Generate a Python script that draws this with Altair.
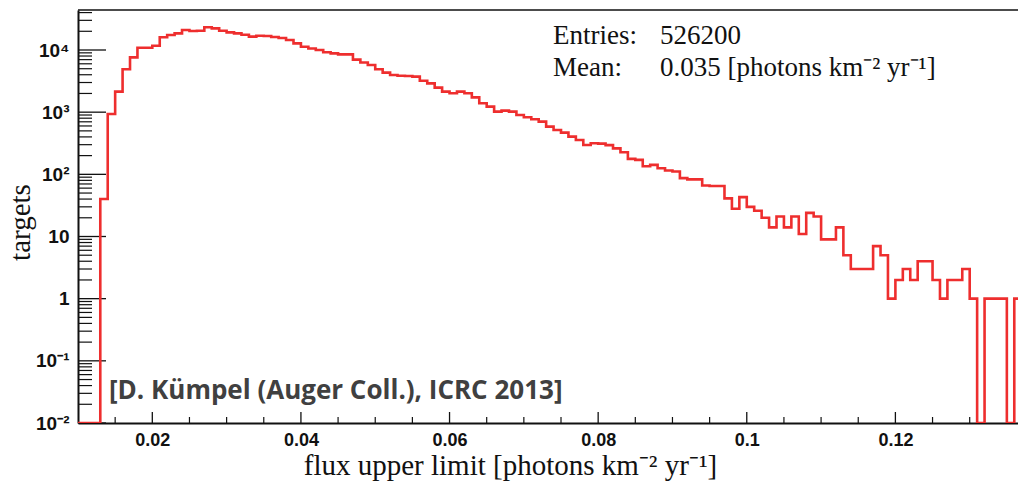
import altair as alt
import numpy as np
import pandas as pd

# ---- histogram: flux upper limit (bin width 0.001, first bin edge 0.010) ----
x_start = 0.010
bin_width = 0.001
counts = [
    0, 0, 0, 40, 936, 2140, 4900, 7620, 10900, 10900,
    11700, 16000, 17400, 18500, 21000, 20200, 20400, 23200, 22300, 20400,
    19200, 18500, 17600, 16400, 17000, 16800, 16200, 15600, 14500, 12800,
    11300, 10600, 10000, 9180, 8840, 8500, 8500, 7000, 6300, 5740,
    4900, 4320, 3960, 3860, 3820, 3730, 3210, 2910, 2480, 2140,
    2010, 2140, 2010, 1730, 1390, 1230, 1020, 1060, 1020, 901,
    828, 769, 705, 585, 518, 469, 404, 357, 297, 316,
    312, 295, 262, 226, 177, 171, 135, 142, 125, 115,
    111, 87, 83, 83, 66, 65, 65, 41, 28, 43,
    30, 26, 20, 14, 21, 14, 21, 11, 24, 21,
    9, 9, 14, 5, 3, 3, 3, 7, 5, 1,
    2, 3, 2, 4, 4, 2, 1, 2, 2, 3,
    1, 0, 1, 1, 1, 0, 1,
]

y_tick_major = [0.01, 0.1, 1, 10, 100, 1000, 10000]
y_tick_minor = [m * d for d in [0.01, 0.1, 1, 10, 100, 1000, 10000] for m in range(2, 10)]
x_tick_major = [0.02, 0.04, 0.06, 0.08, 0.10, 0.12]
x_tick_minor = [0.015, 0.025, 0.03, 0.035, 0.045, 0.05, 0.055, 0.065, 0.07, 0.075,
                0.085, 0.09, 0.095, 0.105, 0.11, 0.115, 0.125, 0.13, 0.135]

entries_text = "526200"
mean_text = "0.035 [photons km\u207b\u00b2 yr\u207b\u00b9]"
credit_text = "[D. K\u00fcmpel (Auger Coll.), ICRC 2013]"

W, H = 940, 413
RED = "#ee2e2e"
Y_MIN = 0.01
Y_MAX = 44000
X_MIN, X_MAX = 0.010, 0.1365

edges = [round(x_start + bin_width * k, 4) for k in range(len(counts) + 1)]
vals = list(np.maximum(np.array(counts + [counts[-1]], dtype=float), Y_MIN))
hist = pd.DataFrame({"x": edges, "y": vals})

xscale = alt.Scale(domain=[X_MIN, X_MAX], nice=False, zero=False)
yscale = alt.Scale(type="log", domain=[Y_MIN, Y_MAX], nice=False)

label_expr_y = (
    "datum.value < 0.05 ? '10\u207b\u00b2' : datum.value < 0.5 ? '10\u207b\u00b9' : "
    "datum.value < 5 ? '1' : datum.value < 50 ? '10' : datum.value < 500 ? '10\u00b2' : "
    "datum.value < 5000 ? '10\u00b3' : '10\u2074'"
)

xaxis = alt.Axis(
    values=x_tick_major, labelExpr="format(datum.value, '~g')",
    ticks=False, tickSize=0, grid=False, domainColor="#111", domainWidth=2,
    labelFont="Liberation Sans", labelFontWeight="bold", labelFontSize=18, labelColor="#111",
    labelPadding=8, labelFlush=False, labelOverlap=False,
    title="flux upper limit [photons km\u207b\u00b2 yr\u207b\u00b9]",
    titleFont="Liberation Serif", titleFontWeight="normal", titleFontSize=29, titleColor="#111",
    titleX=432, titleY=51, titleAlign="center", titleBaseline="alphabetic",
)
yaxis = alt.Axis(
    values=y_tick_major, labelExpr=label_expr_y,
    ticks=False, tickSize=0, grid=False, domainColor="#111", domainWidth=2,
    labelFont="Liberation Sans", labelFontWeight="bold", labelFontSize=19, labelColor="#111",
    labelPadding=9, labelFlush=False, labelOverlap=False,
    title="targets",
    titleFont="Liberation Serif", titleFontWeight="normal", titleFontSize=29, titleColor="#111",
    titleX=-49, titleY=212, titleAngle=-90, titleAlign="center", titleBaseline="alphabetic",
)

line = alt.Chart(hist).mark_line(
    interpolate="step-after", color=RED, strokeWidth=2.6, clip=True
).encode(
    x=alt.X("x:Q", scale=xscale, axis=xaxis),
    y=alt.Y("y:Q", scale=yscale, axis=yaxis),
)

ymaj = alt.Chart(pd.DataFrame({"y": y_tick_major})).mark_rule(color="#111", strokeWidth=1.3).encode(
    y=alt.Y("y:Q", scale=yscale), x=alt.value(0), x2=alt.value(28)
)
ymin = alt.Chart(pd.DataFrame({"y": [v for v in y_tick_minor if v < Y_MAX]})).mark_rule(
    color="#111", strokeWidth=1.2
).encode(y=alt.Y("y:Q", scale=yscale), x=alt.value(0), x2=alt.value(14))

xmaj = alt.Chart(pd.DataFrame({"x": x_tick_major})).mark_rule(color="#111", strokeWidth=1.3).encode(
    x=alt.X("x:Q", scale=xscale), y=alt.value(H), y2=alt.value(H - 11)
)
xmin = alt.Chart(pd.DataFrame({"x": x_tick_minor})).mark_rule(color="#111", strokeWidth=1.2).encode(
    x=alt.X("x:Q", scale=xscale), y=alt.value(H), y2=alt.value(H - 6)
)

top = alt.Chart(pd.DataFrame({"x": [X_MIN]})).mark_rule(color="#111", strokeWidth=1.6).encode(
    x=alt.value(0), x2=alt.value(W), y=alt.value(0)
)

def text_layer(txt, x, y, **kw):
    style = dict(align="left", baseline="alphabetic", font="Liberation Serif", fontSize=27, color="#111")
    style.update(kw)
    return alt.Chart(pd.DataFrame({"t": [txt]})).mark_text(**style).encode(
        text="t:N", x=alt.value(x), y=alt.value(y)
    )

entries_lbl = text_layer("Entries:", 475, 34)
mean_lbl = text_layer("Mean:", 475, 66)
entries_val = text_layer(entries_text, 582, 34)
mean_val = text_layer(mean_text, 582, 66)
credit = text_layer(credit_text, 31, 389, font="Open Sans", fontWeight="bold", fontSize=26, color="#404040")

chart = alt.layer(
    ymin, ymaj, xmin, xmaj, top, line, entries_lbl, mean_lbl, entries_val, mean_val, credit
).properties(
    width=W, height=H,
    autosize=alt.AutoSizeParams(type="none"),
    padding={"left": 78, "top": 10, "right": 0, "bottom": 59},
    background="white",
).configure_view(stroke=None)

chart.save("out.html", embed_options={"renderer": "svg", "actions": False})
